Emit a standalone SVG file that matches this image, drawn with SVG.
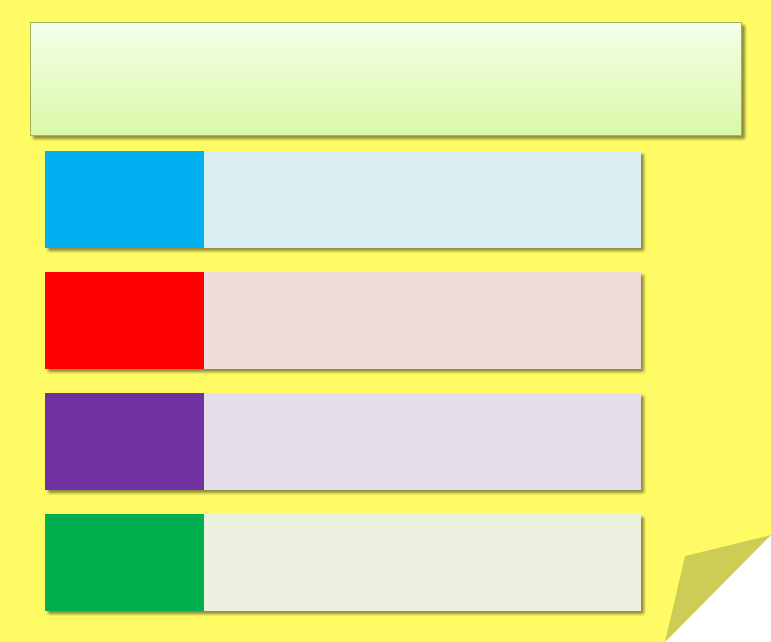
<svg xmlns="http://www.w3.org/2000/svg" width="771" height="642" viewBox="0 0 771 642">
<defs>
<linearGradient id="tg" x1="0" y1="0" x2="0" y2="1">
<stop offset="0" stop-color="#f5ffea"/>
<stop offset="1" stop-color="#d9f9a6"/>
</linearGradient>
<filter id="sh" x="-5%" y="-10%" width="112%" height="130%">
<feGaussianBlur in="SourceAlpha" stdDeviation="1.5"/>
<feOffset dx="2.5" dy="2.5" result="b"/>
<feComponentTransfer><feFuncA type="linear" slope="0.45"/></feComponentTransfer>
<feMerge><feMergeNode/><feMergeNode in="SourceGraphic"/></feMerge>
</filter>
<style>
.bar{filter:url(#sh)}
</style>
</defs>
<rect width="771" height="642" fill="#ffffff"/>
<polygon points="0,0 771,0 771,535 665,642 0,642" fill="#fffb64"/>
<polygon points="771,535 685,556 665,642" fill="#cdcd55"/>
<g id="title">
<rect x="30.5" y="22.5" width="711" height="113" fill="url(#tg)" stroke="#9cb35a" stroke-width="1" filter="url(#sh)"/>
</g>
<g id="row1" class="bar">
<rect x="45" y="151" width="596" height="97" fill="#dbeef4"/>
<rect x="45" y="151" width="159" height="97" fill="#00b0f0"/>
</g>
<g id="row2" class="bar">
<rect x="45" y="272" width="596" height="97" fill="#f2dcdb"/>
<rect x="45" y="272" width="159" height="97" fill="#ff0000"/>
</g>
<g id="row3" class="bar">
<rect x="45" y="393" width="596" height="97" fill="#e5dfec"/>
<rect x="45" y="393" width="159" height="97" fill="#7030a0"/>
</g>
<g id="row4" class="bar">
<rect x="45" y="514" width="596" height="97" fill="#ebf1de"/>
<rect x="45" y="514" width="159" height="97" fill="#00b050"/>
</g>
<g id="connectors"/>
</svg>
